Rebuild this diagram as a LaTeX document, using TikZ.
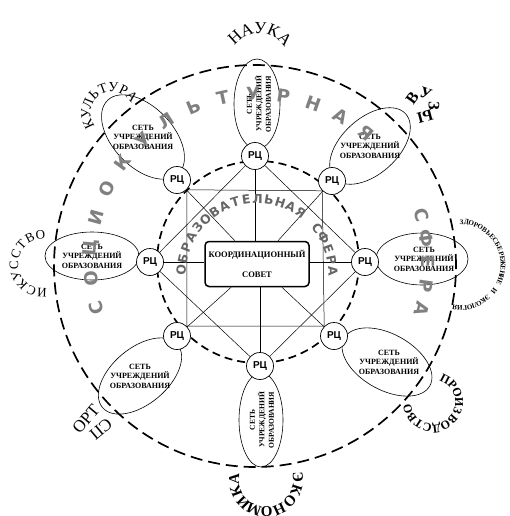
\documentclass[tikz,border=0pt]{standalone}
\usepackage{fontspec}
\setmainfont{Liberation Serif}
\setsansfont{Liberation Sans}
\newfontfamily\heavyfont{DejaVu Sans}
\usetikzlibrary{calc}

% letters set one by one round a centre, clockwise, tops outward
\newcommand\arcletters[7]{%
  \foreach \ch [count=\i] in {#7}{%
    \pgfmathsetmacro\ang{#4-(\i-1)*(#5)}%
    \node[#6, rotate={\ang-90}] (#1\i) at ($(#2)+(\ang:#3)$) {\ch};
  }%
}

\tikzset{
  rc/.style={circle, draw, fill=white, line width=0.7pt, minimum size=27pt, inner sep=0pt,
    font=\sffamily\bfseries\fontsize{10}{10}\selectfont},
  sovetbox/.style={draw, fill=white, rounded corners=4pt, line width=1.5pt, minimum width=104pt,
    minimum height=45pt, align=center, font=\bfseries\fontsize{8.5}{10}\selectfont},
  netline/.style={line width=0.6pt},
  nettext/.style={align=center, inner sep=0pt, font=\bfseries\fontsize{#1}{9.5}\selectfont},
  nettext/.default=8,
  link/.style={line width=0.5pt},
  ring/.style={line width=1.7pt, dash pattern=on 8pt off 5pt},
  bigring/.style={line width=1.7pt, dash pattern=on 12pt off 6pt},
  sphere/.style={inner sep=0pt, text=black!50, font=\heavyfont\bfseries\fontsize{18}{18}\selectfont},
  edusphere/.style={inner sep=0pt, text=black!60, font=\heavyfont\bfseries\fontsize{12.5}{12.5}\selectfont},
  field/.style={inner sep=0pt, font=\fontsize{#1}{#1}\selectfont},
  boldfield/.style={inner sep=0pt, font=\bfseries\fontsize{#1}{#1}\selectfont}
}

\begin{document}
\begin{tikzpicture}[x=1pt,y=1pt]
\useasboundingbox (0,0) rectangle (509,-516);
\coordinate (mid) at (258,-262);
\coordinate (outmid) at (255,-266);
\coordinate (inmid) at (257,-275);

% dashed spheres
\draw[bigring] (outmid) circle[radius=201pt];
\draw[ring] (mid) circle[radius=101pt];

% networks of institutions
\draw[netline] (257,-104) ellipse[x radius=23pt, y radius=45pt];
\draw[netline, rotate around={42:(370,-146)}] (370,-146) ellipse[x radius=48pt, y radius=28pt];
\draw[netline] (422,-259) ellipse[x radius=46pt, y radius=26pt];
\draw[netline, rotate around={-29:(387,-362)}] (387,-362) ellipse[x radius=49pt, y radius=28pt];
\draw[netline] (261,-420) ellipse[x radius=22pt, y radius=47pt];
\draw[netline, rotate around={40:(140,-376)}] (140,-376) ellipse[x radius=49pt, y radius=28pt];
\draw[netline] (92,-256) ellipse[x radius=47pt, y radius=24pt];
\draw[netline, rotate around={-46:(143,-137)}] (143,-137) ellipse[x radius=51pt, y radius=30pt];

\node[nettext=7.5, rotate=90] (sett) at (259,-104) {СЕТЬ\\УЧРЕЖДЕНИЙ\\ОБРАЗОВАНИЯ};
\node[nettext] (settr) at (370,-146) {СЕТЬ\\УЧРЕЖДЕНИЙ\\ОБРАЗОВАНИЯ};
\node[nettext] (setr) at (424,-259) {СЕТЬ\\УЧРЕЖДЕНИЙ\\ОБРАЗОВАНИЯ};
\node[nettext] (setbr) at (389,-362) {СЕТЬ\\УЧРЕЖДЕНИЙ\\ОБРАЗОВАНИЯ};
\node[nettext=7.5, rotate=90] (setb) at (262,-420) {СЕТЬ\\УЧРЕЖДЕНИЙ\\ОБРАЗОВАНИЯ};
\node[nettext] (setbl) at (140,-376) {СЕТЬ\\УЧРЕЖДЕНИЙ\\ОБРАЗОВАНИЯ};
\node[nettext] (setl) at (92,-256) {СЕТЬ\\УЧРЕЖДЕНИЙ\\ОБРАЗОВАНИЯ};
\node[nettext] (settl) at (143,-137) {СЕТЬ\\УЧРЕЖДЕНИЙ\\ОБРАЗОВАНИЯ};

% council and resource centres
\node[sovetbox] (sovet) at (257,-264) {КООРДИНАЦИОННЫЙ\\[10pt]СОВЕТ};
\node[rc] (rct) at (255,-156) {РЦ};
\node[rc] (rctr) at (332,-181) {РЦ};
\node[rc] (rcr) at (365,-262) {РЦ};
\node[rc] (rcbr) at (334,-336) {РЦ};
\node[rc] (rcb) at (260,-366) {РЦ};
\node[rc] (rcbl) at (177,-336) {РЦ};
\node[rc] (rcl) at (150,-262) {РЦ};
\node[rc] (rctl) at (177,-180) {РЦ};

% links
\draw[link] (rct) -- (rct |- sovet.north);
\draw[link] (rcb) -- (rcb |- sovet.south);
\draw[link] (rcl) -- (rcl -| sovet.west);
\draw[link] (rcr) -- (rcr -| sovet.east);
\foreach \n in {rctl,rctr,rcbr,rcbl}
  \draw[link] (\n) -- (sovet);
\draw[link] (rct) -- (rcr) (rcr) -- (rcb) (rcb) -- (rcl) (rcl) -- (rct);
\draw[link] (rctl.-45) -- (rctr.-135) -- (rcbr.135) -- (rcbl.45) -- cycle;

% sphere names
\arcletters{soc}{mid}{168pt}{196}{10.43}{sphere}{С,О,Ц,И,О,К,У,Л,Ь,Т,У,Р,Н,А,Я}
\arcletters{sfera}{mid}{170pt}{16}{8}{sphere}{С,Ф,Е,Р,А}
\arcletters{edu}{inmid}{76pt}{176}{8.65}{edusphere}{О,Б,Р,А,З,О,В,А,Т,Е,Л,Ь,Н,А,Я,{},С,Ф,Е,Р,А}

% fields round the networks
\coordinate (naukac) at (259,-64);
\coordinate (vuzyc) at (422,-105);
\coordinate (zdorc) at (460,-265);
\coordinate (proizc) at (433,-402);
\coordinate (ekonc) at (266,-480);
\coordinate (iskc) at (43,-264);
\coordinate (kultc) at (112,-113);
\arcletters{nauka}{naukac}{36pt}{132}{22}{field=17}{Н,А,У,К,А}
\arcletters{vuzy}{vuzyc}{12pt}{144}{73}{boldfield=16}{В,У,З,Ы}
\arcletters{zdor}{zdorc}{43pt}{88}{6.6}{boldfield=7}{З,Д,О,Р,О,В,Ь,Е,С,Б,Е,Р,Е,Ж,Е,Н,И,Е,{},И,{},Э,К,О,Л,О,Г,И,Я}
\arcletters{proiz}{proizc}{26pt}{62}{20.6}{boldfield=12}{П,Р,О,И,З,В,О,Д,С,Т,В,О}
\arcletters{ekon}{ekonc}{32pt}{5}{23.4}{boldfield=15}{Э,К,О,Н,О,М,И,К,А}
\arcletters{isk}{iskc}{29pt}{268}{21.6}{field=13}{И,С,К,У,С,С,Т,В,О}
\arcletters{kult}{kultc}{26pt}{205}{23.6}{field=14}{К,У,Л,Ь,Т,У,Р,А}
\node[field=17, rotate=50] (sportb) at (86,-419) {ОРТ};
\node[field=17, rotate=-140] (sporta) at (101,-429) {СП};
\end{tikzpicture}
\end{document}
